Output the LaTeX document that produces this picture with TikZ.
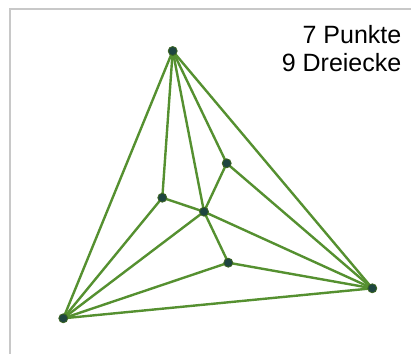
\documentclass[tikz,border=0pt]{standalone}
\usepackage{fontspec}
\setmainfont{Liberation Sans}
\usetikzlibrary{positioning,backgrounds}
\definecolor{edge}{HTML}{559030}
\definecolor{vert}{HTML}{1E4540}
\definecolor{frame}{HTML}{C8C8C8}

\begin{document}
\begin{tikzpicture}[
  x=1pt, y=-1pt,
  pt/.style={circle, fill=vert, draw=edge!70!black, line width=0.8pt,
             minimum size=9pt, inner sep=0pt},
  link/.style={draw=edge, line width=2.4pt},
  lbl/.style={anchor=base east, inner sep=0pt, font=\fontsize{25}{27.5}\selectfont}
]
  \useasboundingbox (0,0) rectangle (411,353);
  \clip (0,0) rectangle (411,353);
  \draw[frame, line width=1.5pt] (10,9) rectangle (425,370);

  % outer points
  \node[pt] (top) at (172.7, 51) {};
  \node[pt] (bl) at (63.3, 318.3) {};
  \node[pt] (rt) at (372.3, 288.3) {};
  % inner points
  \node[pt] (ur) at (226.7, 163.3) {};
  \node[pt] (lf) at (162.3, 197.7) {};
  \node[pt] (mid) at (204, 211.7) {};
  \node[pt] (lo) at (228.3, 262.7) {};

  \begin{scope}[on background layer]
    \draw[link] (top.center) -- (bl.center) -- (rt.center) -- cycle;
    \foreach \a/\b in {top/lf, top/mid, top/ur, ur/mid, ur/rt, lf/mid, lf/bl,
                       mid/bl, mid/rt, mid/lo, lo/bl, lo/rt}
      \draw[link] (\a.center) -- (\b.center);
  \end{scope}

  \node[lbl] (npts) at (401.5, 44) {7 Punkte};
  \node[lbl] (ntri) at (401.5, 71.6) {9 Dreiecke};
\end{tikzpicture}
\end{document}
